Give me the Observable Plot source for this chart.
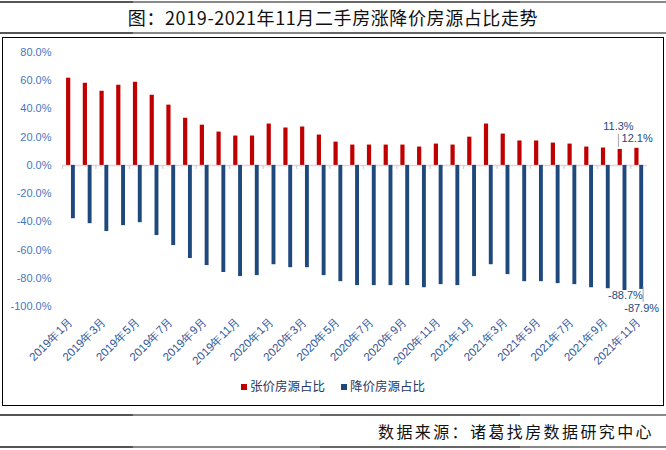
<!DOCTYPE html>
<html><head><meta charset="utf-8">
<script src="https://cdn.jsdelivr.net/npm/d3@7"></script>
<script src="https://cdn.jsdelivr.net/npm/@observablehq/plot@0.6"></script>
<style>
body{margin:0;background:#fff;width:666px;height:450px;position:relative;overflow:hidden;font-family:"Noto Sans CJK SC","Noto Sans",sans-serif}
.hline{position:absolute;left:0;width:666px;height:2px;background:linear-gradient(to right,#555 0,#555 133px,#888 133px,#888 320px,#666 320px,#666 520px,#888 520px)}
#title{position:absolute;top:4px;left:0;width:666px;text-align:center;font-size:18px;line-height:26px;color:#111;letter-spacing:0.6px}
#box{position:absolute;left:2px;top:37px;width:660px;height:367px;border:1.5px solid #000;box-sizing:content-box}
#chart{position:absolute;left:0;top:0}
#legend{position:absolute;top:377px;left:0;width:666px;display:flex;justify-content:center;gap:16px;font-size:12.5px;color:#1f3864;line-height:18px}
#legend span.sw{display:inline-block;width:6px;height:6px;margin-right:3px;vertical-align:1px}
#source{position:absolute;right:12px;top:420px;font-size:16px;line-height:22px;letter-spacing:2.4px;color:#111}
#chart svg text{font-family:"Liberation Sans",Arial,sans-serif}
</style>
</head><body>
<div class="hline" style="top:1px"></div>
<div id="title">图：2019-2021年11月二手房涨降价房源占比走势</div>
<div class="hline" style="top:32px"></div>
<div id="box"></div>
<div id="chart"></div>
<div id="legend"><div><span class="sw" style="background:#c00000"></span>张价房源占比</div><div><span class="sw" style="background:#1f497d"></span>降价房源占比</div></div>
<div class="hline" style="top:414px"></div>
<div id="source">数据来源：诸葛找房数据研究中心</div>
<div class="hline" style="top:446px"></div>
<script>
const months = ["2019年1月","2019年2月","2019年3月","2019年4月","2019年5月","2019年6月","2019年7月","2019年8月","2019年9月","2019年10月","2019年11月","2019年12月",
"2020年1月","2020年2月","2020年3月","2020年4月","2020年5月","2020年6月","2020年7月","2020年8月","2020年9月","2020年10月","2020年11月","2020年12月",
"2021年1月","2021年2月","2021年3月","2021年4月","2021年5月","2021年6月","2021年7月","2021年8月","2021年9月","2021年10月","2021年11月"];
const risePct = [61.8,58.2,52.5,56.8,58.9,49.7,42.7,33.4,28.5,23.6,20.8,20.8,29.3,26.5,27.2,21.5,16.5,14.4,14.4,14.4,14.4,13.0,15.1,14.4,20.0,29.3,22.2,17.3,17.3,15.8,15.1,13.0,12.3,11.3,12.1];
const fallPct = [-37.8,-41.3,-46.9,-42.7,-40.6,-49.7,-56.8,-66.0,-71.0,-75.9,-78.8,-78.1,-70.4,-72.5,-72.5,-78.1,-82.4,-85.2,-85.2,-85.2,-85.2,-86.7,-84.5,-85.2,-78.8,-70.4,-77.4,-82.4,-82.4,-83.8,-84.5,-86.7,-87.4,-88.7,-87.9];
const yTicks = [-100,-80,-60,-40,-20,0,20,40,60,80];
const xLabels = ["2019年1月","2019年3月","2019年5月","2019年7月","2019年9月","2019年11月","2020年1月","2020年3月","2020年5月","2020年7月","2020年9月","2020年11月","2021年1月","2021年3月","2021年5月","2021年7月","2021年9月","2021年11月"];

const rows = months.map((m,i)=>({month:m, rise:risePct[i], fall:fallPct[i]}));
const W = 666, ML = 62, MR = 19;
const bw = (W - ML - MR) / months.length;
const last = rows[rows.length-1], prev = rows[rows.length-2];
const fmt = v => v.toFixed(1) + "%";
const lblColor = "#1f497d";

const chart = Plot.plot({
  width: W, height: 370,
  marginTop: 52, marginBottom: 64, marginLeft: ML, marginRight: MR,
  x: {type: "band", domain: months, padding: 0, round: false},
  y: {domain: [-100, 80]},
  marks: [
    Plot.ruleY([0], {stroke: "#d9d9d9", strokeWidth: 1.5}),
    Plot.ruleX(xLabels, {x: d => d, y1: 0, y2: 0, dx: -bw/2, insetBottom: -4, stroke: "#d0d0d0", strokeWidth: 1.2}),
    Plot.barY(rows, {x: "month", y: "rise", fill: "#c00000", insetLeft: bw/2 - 4.3, insetRight: bw/2 + 0.1}),
    Plot.barY(rows, {x: "month", y: "fall", fill: "#1f497d", insetLeft: bw/2 + 0.6, insetRight: bw/2 - 4.5}),
    Plot.axisY({ticks: yTicks, tickFormat: d => d.toFixed(1) + "%", tickSize: 0, tickPadding: 11, fontSize: 11, color: "#3f78c0", label: null}),
    Plot.axisX({ticks: xLabels, tickRotate: -45, tickSize: 0, tickPadding: 13, fontSize: 11.5, color: "#2f5597", label: null}),
    // leader lines
    Plot.ruleX([prev], {x: "month", y1: "rise", y2: "rise", dx: -4, insetTop: -15, insetBottom: 2, stroke: "#a6a6a6", strokeWidth: 1}),
    Plot.ruleX([last], {x: "month", y1: "fall", y2: "fall", dx: 4, insetTop: -2, insetBottom: -13, stroke: "#a6a6a6", strokeWidth: 1}),
    // data labels
    Plot.text([prev], {x: "month", y: "rise", text: d => fmt(d.rise), dx: -4, dy: -23, fontSize: 11, fill: lblColor}),
    Plot.text([last], {x: "month", y: "rise", text: d => fmt(d.rise), dx: -2, dy: -10, fontSize: 11, fill: lblColor}),
    Plot.text([prev], {x: "month", y: "fall", text: d => fmt(d.fall), dx: 3, dy: 5, fontSize: 11, fill: lblColor}),
    Plot.text([last], {x: "month", y: "fall", text: d => fmt(d.fall), dx: 2.5, dy: 19, fontSize: 11, fill: lblColor})
  ]
});
chart.style.background = "transparent";
document.getElementById("chart").appendChild(chart);
</script>
</body></html>
